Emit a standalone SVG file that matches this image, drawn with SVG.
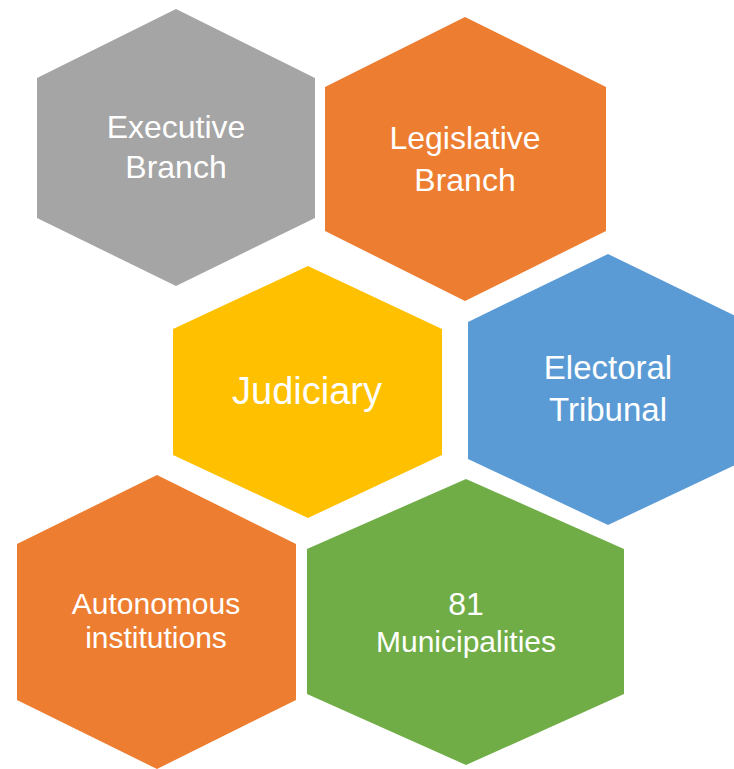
<svg xmlns="http://www.w3.org/2000/svg" width="734" height="769" viewBox="0 0 734 769">
  <style>
    .lbl { font-family: "Liberation Sans", Arial, sans-serif; fill: #ffffff; text-anchor: middle; }
  </style>
  <rect width="734" height="769" fill="#ffffff"/>
  <g id="executive">
    <polygon points="176,9 315,78 315,218 176,286 37,218 37,78" fill="#A5A5A5"/>
    <text class="lbl" font-size="32" x="176" y="138">Executive</text>
    <text class="lbl" font-size="32" x="176" y="178">Branch</text>
  </g>
  <g id="legislative">
    <polygon points="465,17 606,87 606,231 465,301 325,231 325,87" fill="#ED7D31"/>
    <text class="lbl" font-size="32" x="465" y="149">Legislative</text>
    <text class="lbl" font-size="32" x="465" y="191">Branch</text>
  </g>
  <g id="judiciary">
    <polygon points="308,266 442,329 442,455 308,518 173,455 173,329" fill="#FFC000"/>
    <text class="lbl" font-size="38" x="307" y="404">Judiciary</text>
  </g>
  <g id="electoral">
    <polygon points="608,254 748,322 748,459 608,525 468,459 468,322" fill="#5B9BD5"/>
    <text class="lbl" font-size="33" x="608" y="379">Electoral</text>
    <text class="lbl" font-size="33" x="608" y="421">Tribunal</text>
  </g>
  <g id="autonomous">
    <polygon points="157,475 296,544 296,700 157,769 17,700 17,544" fill="#ED7D31"/>
    <text class="lbl" font-size="30" x="156" y="614">Autonomous</text>
    <text class="lbl" font-size="30" x="156" y="648">institutions</text>
  </g>
  <g id="municipalities">
    <polygon points="466,479 624,549 624,694 466,765 307,694 307,549" fill="#70AD47"/>
    <text class="lbl" font-size="32" x="466" y="615">81</text>
    <text class="lbl" font-size="30" x="466" y="652">Municipalities</text>
  </g>
  <g id="connectors"></g>
</svg>
